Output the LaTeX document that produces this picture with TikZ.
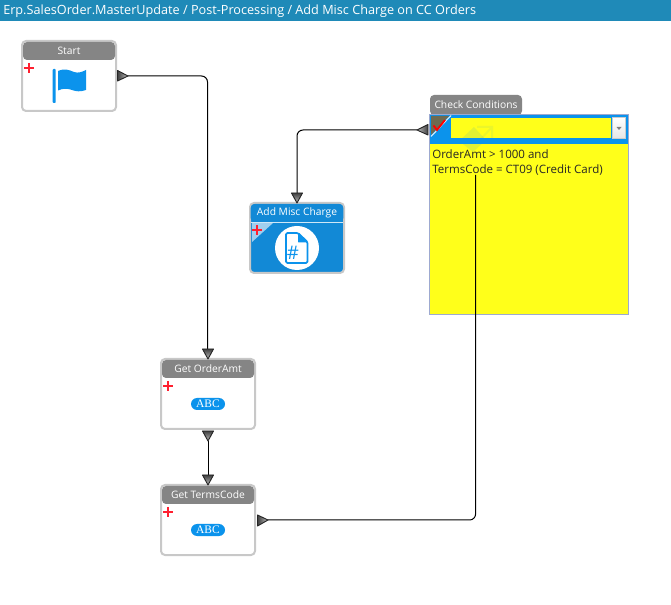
\documentclass[tikz,border=0pt]{standalone}
\usepackage{fontspec}
\setmainfont{Open Sans}
\newfontfamily\abcfont{Liberation Serif}
\usetikzlibrary{calc}
\definecolor{titlebar}{HTML}{1F8AB8}
\definecolor{hdrgray}{HTML}{858585}
\definecolor{cardedge}{HTML}{C8C8C8}
\definecolor{appblue}{HTML}{1289D6}
\definecolor{iconblue}{HTML}{0B93EC}
\definecolor{condyellow}{HTML}{FFFF1A}
\definecolor{boxedge}{HTML}{9DA9D0}
\definecolor{flagolive}{HTML}{6E6A50}
\definecolor{plusred}{HTML}{FF2030}
\tikzset{
  x=0.75pt,y=-0.75pt,
  card/.style={draw=cardedge,line width=1.5pt,fill=white,rounded corners=3pt,minimum width=70.5pt,minimum height=52.5pt,inner sep=0pt,outer sep=0pt},
  bluecard/.style={card,fill=appblue},
  hdr/.style={fill=hdrgray,rounded corners=3pt,text=white,font=\fontsize{7.7pt}{8pt}\selectfont,minimum width=69pt,minimum height=13.5pt,inner sep=0pt},
  plus/.style={draw=plusred,line width=2.2pt},
  abc/.style={fill=iconblue,rounded corners=4.5pt,text=white,font=\abcfont\fontsize{8.6pt}{9pt}\selectfont,minimum width=25.5pt,minimum height=9pt,inner sep=0pt},
  port/.style={draw=black!85,line width=0.7pt,line join=round},
  wire/.style={draw=black,line width=0.75pt,rounded corners=4.5pt},
  condtext/.style={anchor=west,font=\fontsize{8.65pt}{10pt}\selectfont,inner sep=0pt,text=black!85}
}
\newcommand{\plusat}[2]{\draw[plus] (#1-5,#2) -- (#1+5,#2) (#1,#2-5) -- (#1,#2+5);}
\begin{document}
\begin{tikzpicture}
\useasboundingbox (0,0) rectangle (671,605);
\fill[white] (0,0) rectangle (671,605);
% title bar
\fill[titlebar] (0,0) rectangle (671,21);
\node[anchor=west,text=white,inner sep=0pt,font=\fontsize{9.5pt}{11pt}\selectfont] (title) at (3,11) {Erp.SalesOrder.MasterUpdate / Post-Processing / Add Misc Charge on CC Orders};
% check conditions panel
\node[hdr,minimum width=69pt,minimum height=15pt] (checkhdr) at (476,105) {Check Conditions};
\node[draw=boxedge,line width=0.6pt,fill=condyellow,minimum width=149.2pt,minimum height=149.5pt,inner sep=0pt,outer sep=0pt] (check) at (529.2,214.5) {};
\fill[iconblue] (430,115.5) rectangle (628.2,144);
\node[fill=condyellow,minimum width=120pt,minimum height=15.5pt,inner sep=0pt] (combo) at (530.5,128) {};
% faint watermark
\fill[iconblue,opacity=.12] (459,141) -- (474,127) -- (486,140) -- (473,152) -- cycle;
\draw[iconblue,opacity=.08,line width=1.5pt] (477,127) -- (492,127) -- (492,142) (480,140) -- (492,127);
\node[draw=black!20,top color=white,bottom color=black!10,minimum width=10pt,minimum height=15.5pt,inner sep=0pt] (drop) at (619,128) {};
\fill[black!50] (616.5,127) -- (621.5,127) -- (619,130) -- cycle;
\fill[flagolive] (431,116) -- (449,116) -- (431,135) -- cycle;
\draw[white!85!iconblue,line width=0.8pt] (451,115.5) -- (431,136.5);
\draw[red,line width=1.4pt] (433.5,125.5) -- (437,130) -- (445,120);
\node[condtext] (cond1) at (432,154) {OrderAmt > 1000 and};
\node[condtext] (cond2) at (432,170) {TermsCode = CT09 (Credit Card)};
% cards
\node[card] (start) at (69,76) {};
\node[hdr] (starth) at (69,51) {Start};
\plusat{29}{68}
\fill[iconblue,rounded corners=0.7pt] (52.7,69) rectangle (55.7,103);
\fill[iconblue] (58,71) .. controls (65,68) and (69,70) .. (74,72) .. controls (78,73.5) and (82,72) .. (86,70) -- (86,90) .. controls (80,92) and (76,91.5) .. (72,90) .. controls (68,88.5) and (63,88) .. (58,90.5) -- cycle;

\node[bluecard] (misc) at (297,238) {};
\node[hdr,fill=appblue,minimum width=69.5pt] (misch) at (297,213) {Add Misc Charge};
\draw[white,opacity=.8,line width=0.6pt] (251,222.5) -- (343,222.5);
\fill[white,opacity=.6] (252,223) -- (273,223) -- (252,242) -- cycle;
\plusat{257}{230}
\node[circle,fill=white,minimum size=33pt,inner sep=0pt] (miscicon) at (297,248) {};
\draw[iconblue,line width=1.3pt,line join=round,rounded corners=1pt] (286,233) -- (298,233) -- (307.5,242) -- (307.5,263) -- (286,263) -- cycle;
\fill[iconblue,rounded corners=0.5pt] (298,233) -- (307.5,242.5) -- (298,242.5) -- cycle;
\node[text=iconblue,inner sep=0pt,font=\fontsize{14pt}{15pt}\selectfont] (hash) at (293,252.5) {\#};

\node[card] (amt) at (208,394) {};
\node[hdr] (amth) at (208,369) {Get OrderAmt};
\plusat{168}{386}
\node[abc] (amtabc) at (208,404) {ABC};

\node[card] (terms) at (208,520) {};
\node[hdr] (termsh) at (208,495) {Get TermsCode};
\plusat{168}{512}
\node[abc] (termsabc) at (208,530) {ABC};

% port coordinates
\coordinate (pStartOut) at (128,76);
\coordinate (pAmtIn) at (207.5,349);
\coordinate (pAmtOut) at (208,441);
\coordinate (pTermsIn) at (208,475);
\coordinate (pTermsOut) at (268,520);
\coordinate (pCheckIn) at (417,130);
\coordinate (pCheckEnd) at (475.6,175);
\coordinate (pMiscIn) at (297,193);
% connectors
\draw[wire] (pStartOut) -- (pStartOut -| pAmtIn) -- (pAmtIn);
\draw[wire] (pCheckIn) -- (pCheckIn -| pMiscIn) -- (pMiscIn);
\draw[wire] (pTermsOut) -- (pTermsOut -| pCheckEnd) -- (pCheckEnd);
\draw[wire] (pAmtOut) -- (pTermsIn);
% port triangles
\shadedraw[port,left color=black!75,right color=black!25] (117.5,70.5) -- (128,76) -- (117.5,81) -- cycle;
\shadedraw[port,top color=black!75,bottom color=black!25] (202.5,349) -- (213.5,349) -- (208,359) -- cycle;
\shadedraw[port,top color=black!75,bottom color=black!25] (202.5,431) -- (213.5,431) -- (208,441) -- cycle;
\shadedraw[port,top color=black!75,bottom color=black!25] (202.5,475) -- (213.5,475) -- (208,485) -- cycle;
\shadedraw[port,left color=black!75,right color=black!25] (257.5,515) -- (268,520) -- (257.5,526) -- cycle;
\shadedraw[port,right color=black!75,left color=black!25] (428,124.5) -- (417,130) -- (428,135) -- cycle;
\shadedraw[port,top color=black!75,bottom color=black!25] (291.5,193) -- (302.5,193) -- (297,203) -- cycle;
\end{tikzpicture}
\end{document}
